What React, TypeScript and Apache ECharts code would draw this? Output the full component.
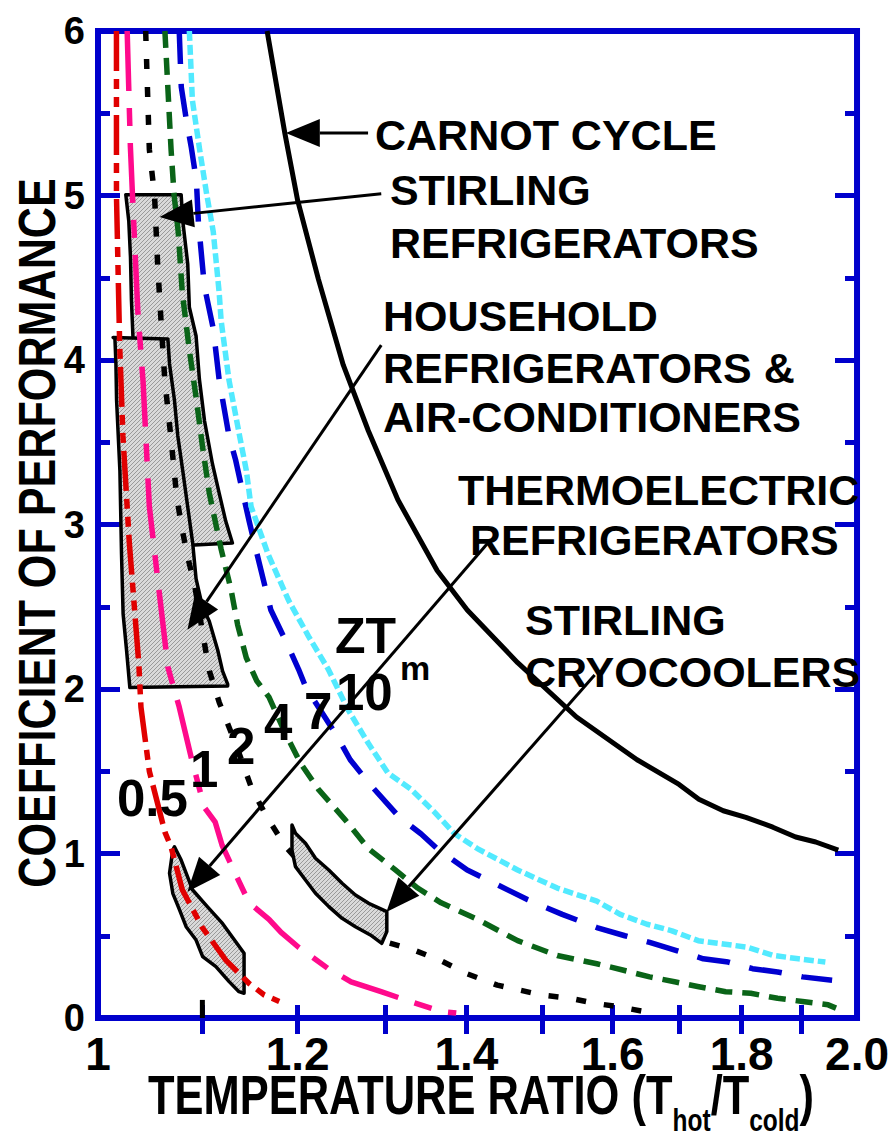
import React, { useEffect, useRef } from "react";
import * as echarts from "echarts";

type P = [number, number];

// ---- axes ----
const xLabelValues = [1, 1.2, 1.4, 1.6, 1.8, 2.0];
const xTickValues = [1.1, 1.2, 1.3, 1.4, 1.5, 1.6, 1.7, 1.8, 1.9];
const yMin = 0;
const yMax = 6;

// ---- thermoelectric curves (ZT) ----
const ztHalf: P[] = [[1.017,6],[1.017,5.0],[1.020,4.09],[1.023,3.54],[1.029,2.89],[1.038,2.15],[1.040,1.89],[1.048,1.50],[1.063,1.13],[1.069,1.04],[1.080,0.78],[1.100,0.55],[1.124,0.35],[1.148,0.21],[1.164,0.14],[1.180,0.10]];
const ztOne: P[] = [[1.027,6],[1.030,5.3],[1.032,5.0],[1.037,4.30],[1.042,3.87],[1.048,3.11],[1.056,2.67],[1.066,2.13],[1.077,1.89],[1.089,1.58],[1.102,1.28],[1.113,1.19],[1.120,1.05],[1.135,0.86],[1.148,0.70],[1.169,0.60],[1.182,0.52],[1.201,0.43],[1.234,0.30],[1.260,0.22],[1.295,0.16],[1.324,0.11],[1.368,0.04],[1.387,0.03]];
const ztTwo: P[] = [[1.0445,6],[1.048,5.28],[1.053,5.0],[1.056,4.58],[1.0595,4.21],[1.063,3.87],[1.069,3.52],[1.0745,3.17],[1.079,3.0],[1.085,2.81],[1.092,2.64],[1.102,2.28],[1.107,2.11],[1.117,1.92],[1.135,1.65],[1.151,1.39],[1.167,1.22],[1.187,1.04],[1.24,0.72],[1.295,0.47],[1.336,0.41],[1.367,0.35],[1.40,0.27],[1.44,0.20],[1.499,0.14],[1.539,0.12],[1.573,0.09],[1.606,0.07],[1.646,0.04]];
const ztFour: P[] = [[1.063,6],[1.069,5.28],[1.072,5.0],[1.076,4.78],[1.080,4.41],[1.087,4.06],[1.094,3.76],[1.100,3.48],[1.107,3.19],[1.119,2.85],[1.129,2.61],[1.136,2.39],[1.145,2.19],[1.156,2.05],[1.169,1.95],[1.185,1.75],[1.203,1.55],[1.223,1.39],[1.254,1.20],[1.280,1.03],[1.312,0.90],[1.339,0.79],[1.368,0.70],[1.414,0.60],[1.467,0.47],[1.521,0.38],[1.577,0.33],[1.616,0.29],[1.655,0.25],[1.693,0.22],[1.731,0.19],[1.774,0.16],[1.815,0.15],[1.860,0.12],[1.903,0.10],[1.948,0.08],[1.962,0.06]];
const ztSeven: P[] = [[1.077,6],[1.079,5.66],[1.084,5.46],[1.089,5.29],[1.094,5.09],[1.096,4.84],[1.102,4.45],[1.111,4.19],[1.117,3.88],[1.127,3.54],[1.134,3.39],[1.143,3.15],[1.148,3.02],[1.158,2.78],[1.171,2.48],[1.188,2.28],[1.201,2.12],[1.209,2.01],[1.242,1.73],[1.259,1.57],[1.282,1.42],[1.317,1.22],[1.343,1.12],[1.363,1.03],[1.401,0.90],[1.440,0.81],[1.480,0.72],[1.528,0.63],[1.577,0.55],[1.618,0.50],[1.655,0.46],[1.696,0.41],[1.738,0.36],[1.778,0.34],[1.818,0.30],[1.860,0.28],[1.903,0.25],[1.955,0.23]];
const ztTen: P[] = [[1.087,6],[1.090,5.58],[1.097,5.29],[1.104,5.02],[1.111,4.78],[1.117,4.41],[1.119,4.24],[1.127,3.88],[1.138,3.54],[1.145,3.33],[1.150,3.11],[1.168,2.82],[1.190,2.54],[1.212,2.32],[1.234,2.12],[1.257,1.87],[1.280,1.67],[1.303,1.49],[1.331,1.39],[1.360,1.25],[1.385,1.12],[1.414,1.03],[1.467,0.90],[1.521,0.79],[1.577,0.71],[1.611,0.63],[1.651,0.57],[1.689,0.53],[1.730,0.47],[1.770,0.45],[1.810,0.43],[1.853,0.38],[1.896,0.36],[1.943,0.34]];
const carnotCycle: P[] = [[1.167,6],[1.186,5.38],[1.200,4.97],[1.223,4.49],[1.251,3.97],[1.280,3.57],[1.315,3.15],[1.363,2.72],[1.401,2.48],[1.467,2.16],[1.548,1.83],[1.636,1.57],[1.700,1.42],[1.731,1.33],[1.770,1.26],[1.807,1.22],[1.852,1.16],[1.891,1.10],[1.926,1.07],[1.966,1.02]];

// ---- technology regions ----
const stirlingRefrigerators: P[] = [[1.0257,5.005],[1.0789,5.005],[1.0805,4.845],[1.0854,4.584],[1.0870,4.322],[1.0937,4.146],[1.0970,3.884],[1.1022,3.629],[1.1102,3.368],[1.1170,3.191],[1.1237,3.021],[1.1306,2.888],[1.0921,2.875],[1.0483,2.875],[1.0325,4.128],[1.0310,4.365],[1.0301,4.626],[1.0285,4.845]];
const householdRefrigerators: P[] = [[1.0140,4.137],[1.0659,4.128],[1.0675,3.976],[1.0723,3.757],[1.0756,3.538],[1.0805,3.325],[1.0854,3.106],[1.0903,2.888],[1.0937,2.669],[1.1002,2.498],[1.1069,2.413],[1.1155,2.237],[1.1205,2.109],[1.1257,2.030],[1.1257,2.018],[1.0295,2.009],[1.0264,2.237],[1.0232,2.456],[1.0217,2.821],[1.0202,3.325],[1.0171,3.757],[1.0165,3.976],[1.0156,4.128]];
const thermoelectricRefrigerators: P[] = [[1.0723,1.041],[1.0789,0.960],[1.0903,0.778],[1.1052,0.676],[1.1204,0.575],[1.1427,0.393],[1.1427,0.150],[1.1374,0.160],[1.1272,0.221],[1.1137,0.312],[1.1003,0.373],[1.0937,0.474],[1.0838,0.555],[1.0773,0.657],[1.0707,0.758],[1.0675,0.880],[1.0707,1.021]];
const stirlingCryocoolers: P[] = [[1.1938,1.173],[1.1976,1.123],[1.2086,1.062],[1.2197,0.971],[1.2346,0.900],[1.2497,0.819],[1.2650,0.748],[1.2804,0.697],[1.3018,0.647],[1.3018,0.525],[1.2958,0.454],[1.2824,0.505],[1.2650,0.555],[1.2497,0.606],[1.2346,0.677],[1.2197,0.758],[1.2086,0.839],[1.1976,0.920],[1.1938,1.021]];

// ---- annotation arrows: [fromX, fromY, toX, toY] ----
const arrows: [number, number, number, number][] = [
  [1.2797, 5.38, 1.1871, 5.38],
  [1.2952, 5.01, 1.0578, 4.87],
  [1.2952, 4.09, 1.0851, 2.36],
  [1.4310, 2.906, 1.0851, 0.768],
  [1.5739, 2.085, 1.3013, 0.644],
];

const BLUE = "#0000cc";
const FONT = '"Liberation Sans", Arial, sans-serif';

function makeHatch(): any {
  try {
    const c = document.createElement("canvas");
    c.width = 4;
    c.height = 4;
    const g = c.getContext("2d");
    if (!g) return "#c6c6c6";
    g.fillStyle = "#dadada";
    g.fillRect(0, 0, 4, 4);
    g.fillStyle = "#9a9a9a";
    for (let i = 0; i < 4; i++) g.fillRect(i, 3 - i, 1, 1);
    return { image: c.toDataURL(), repeat: "repeat", imageWidth: 4, imageHeight: 4 };
  } catch (e) {
    return "#c6c6c6";
  }
}

function curve(name: string, data: P[], color: string, dash: number[] | "solid", width = 5.5) {
  return {
    name,
    type: "line",
    data,
    showSymbol: false,
    symbol: "none",
    z: 3,
    lineStyle: { color, width, type: dash, cap: "butt", join: "round" },
  };
}

function region(name: string, pts: P[], z: number, fill: any) {
  return {
    name,
    type: "custom",
    coordinateSystem: "cartesian2d",
    data: pts,
    encode: { x: 0, y: 1 },
    z,
    renderItem: (params: any, api: any) => {
      if (params.dataIndex !== 0) return null;
      const points = pts.map((p) => api.coord(p));
      return {
        type: "polygon",
        shape: { points },
        style: { fill, stroke: "#000", lineWidth: 3.5, lineJoin: "round" },
      };
    },
  };
}

function txt(text: string, x: number, y: number, size = 43, extra: any = {}) {
  return {
    type: "text",
    x,
    y,
    z: 50,
    style: { text, fill: "#000", font: `bold ${size}px ${FONT}`, verticalAlign: "middle", align: "left", ...extra },
  };
}

export default function App() {
  const ref = useRef<HTMLDivElement>(null);
  useEffect(() => {
    if (!ref.current) return;
    const chart = echarts.init(ref.current, undefined, { renderer: "svg" });
    const hatch = makeHatch();
    const xAxisBase = {
      type: "log",
      logBase: 10,
      min: 1,
      max: 2,
      splitLine: { show: false },
      axisLine: { show: false },
    };
    const yAxisBase = {
      type: "value",
      min: yMin,
      max: yMax,
      interval: 1,
      splitLine: { show: false },
      axisLine: { show: false },
      axisTick: { show: true, inside: true, length: 22, lineStyle: { color: BLUE, width: 5 } },
      minorTick: { show: true, splitNumber: 2, length: 12, lineStyle: { color: BLUE, width: 5 } },
    };
    chart.setOption({
      animation: false,
      backgroundColor: "#fff",
      grid: { left: 98, right: 30, top: 31, bottom: 124, show: true, borderColor: BLUE, borderWidth: 6, containLabel: false },
      xAxis: [
        {
          ...xAxisBase,
          position: "bottom",
          axisTick: { show: true, inside: true, length: 13, customValues: xTickValues, lineStyle: { color: BLUE, width: 5 } },
          axisLabel: {
            show: true,
            customValues: xLabelValues,
            margin: 13,
            color: "#000",
            fontFamily: FONT,
            fontWeight: "bold",
            fontSize: 46,
            formatter: (v: number) => (Math.abs(v - 1) < 1e-6 ? "1" : Number(v).toFixed(1)),
          },
        },
        {
          ...xAxisBase,
          position: "top",
          axisTick: { show: true, inside: true, length: 16, customValues: xTickValues, lineStyle: { color: BLUE, width: 5 } },
          axisLabel: { show: false },
        },
      ],
      yAxis: [
        {
          ...yAxisBase,
          position: "left",
          axisLabel: { show: true, margin: 13, color: "#000", fontFamily: FONT, fontWeight: "bold", fontSize: 38 },
        },
        {
          ...yAxisBase,
          position: "right",
          axisLabel: { show: false },
        },
      ],
      series: [
        region("Household refrigerators & air-conditioners", householdRefrigerators, 2, hatch),
        region("Stirling refrigerators", stirlingRefrigerators, 1, hatch),
        region("Thermoelectric refrigerators", thermoelectricRefrigerators, 2, hatch),
        curve("ZT = 0.5", ztHalf, "#e00000", [40, 8, 10, 8, 10, 8]),
        curve("ZT = 1", ztOne, "#ff0a8c", [60, 17, 18, 17]),
        curve("ZT = 2", ztTwo, "#000000", [10, 18]),
        curve("ZT = 4", ztFour, "#0a6418", [17, 10]),
        curve("ZT = 7", ztSeven, "#0000d0", [33, 20]),
        curve("ZT = 10", ztTen, "#52eaff", [10, 4]),
        curve("Carnot cycle", carnotCycle, "#000000", "solid", 5),
        {
          name: "x tick 1.1",
          type: "line",
          data: [[1.1, 0], [1.1, 0.11]],
          showSymbol: false,
          symbol: "none",
          z: 4,
          lineStyle: { color: "#000", width: 5, cap: "butt" },
        },
        region("Stirling cryocoolers", stirlingCryocoolers, 5, hatch),
        {
          name: "arrows",
          type: "custom",
          coordinateSystem: "cartesian2d",
          data: arrows,
          encode: { x: [0, 2], y: [1, 3] },
          z: 10,
          renderItem: (params: any, api: any) => {
            const a = api.coord([api.value(0), api.value(1)]);
            const b = api.coord([api.value(2), api.value(3)]);
            const dx = b[0] - a[0];
            const dy = b[1] - a[1];
            const L = Math.hypot(dx, dy) || 1;
            const ux = dx / L;
            const uy = dy / L;
            const hl = 34;
            const hw = 14;
            const bx = b[0] - ux * hl;
            const by = b[1] - uy * hl;
            return {
              type: "group",
              children: [
                { type: "line", shape: { x1: a[0], y1: a[1], x2: bx, y2: by }, style: { stroke: "#000", lineWidth: 3 } },
                {
                  type: "polygon",
                  shape: { points: [b, [bx - uy * hw, by + ux * hw], [bx + uy * hw, by - ux * hw]] },
                  style: { fill: "#000" },
                },
              ],
            };
          },
        },
      ],
      graphic: [
        txt("CARNOT CYCLE", 375, 135),
        txt("STIRLING", 390, 190),
        txt("REFRIGERATORS", 390, 243),
        txt("HOUSEHOLD", 383, 316),
        txt("REFRIGERATORS &", 383, 368),
        txt("AIR-CONDITIONERS", 383, 417),
        txt("THERMOELECTRIC", 458, 490),
        txt("REFRIGERATORS", 470, 540),
        txt("STIRLING", 525, 620),
        txt("CRYOCOOLERS", 525, 672),
        txt("ZT", 335, 636, 50),
        txt("m", 400, 668, 34),
        txt("10", 336, 692, 51),
        txt("7", 304, 711, 51),
        txt("4", 264, 722, 51),
        txt("2", 227, 746, 51),
        txt("1", 190, 769, 51),
        txt("0.5", 117, 798, 51),
        {
          type: "text",
          x: 37,
          y: 533,
          rotation: Math.PI / 2,
          scaleX: 0.83,
          z: 50,
          style: {
            text: "COEFFICIENT OF PERFORMANCE",
            fill: "#000",
            font: `bold 52px ${FONT}`,
            align: "center",
            verticalAlign: "middle",
          },
        },
        {
          type: "text",
          x: 148,
          y: 1095,
          scaleX: 0.79,
          z: 50,
          style: {
            text: "{m|TEMPERATURE RATIO (T}{s|hot}{m|/T}{s|cold}{m|)}",
            align: "left",
            verticalAlign: "middle",
            rich: {
              m: { font: `bold 55px ${FONT}`, fill: "#000", lineHeight: 60 },
              s: { font: `bold 31px ${FONT}`, fill: "#000", padding: [50, 0, 0, 0] },
            },
          },
        },
      ],
    });
    return () => chart.dispose();
  }, []);
  return <div ref={ref} style={{ position: "fixed", left: 0, top: 0, width: 892, height: 1142, background: "#fff" }} />;
}
